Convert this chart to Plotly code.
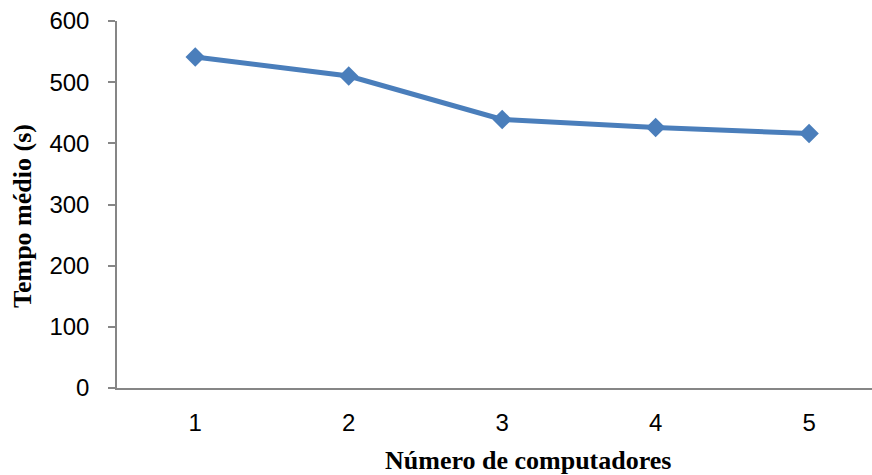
import plotly.graph_objects as go

# Número de computadores vs tempo médio (s)
computadores = [1, 2, 3, 4, 5]
tempo_medio = [541, 510, 439, 426, 416]
y_ticks = [0, 100, 200, 300, 400, 500, 600]

axis_gray = "#868686"
line_blue = "#4A7EBB"

fig = go.Figure()
fig.add_trace(go.Scatter(
    x=computadores,
    y=tempo_medio,
    mode="lines+markers",
    line=dict(color=line_blue, width=5),
    marker=dict(symbol="diamond", size=15, color=line_blue),
    cliponaxis=False,
    showlegend=False,
))

fig.update_layout(
    width=872,
    height=475,
    margin=dict(l=117, r=0, t=21, b=87),
    paper_bgcolor="white",
    plot_bgcolor="white",
    font=dict(family="Liberation Sans, Arial, sans-serif", size=24, color="black"),
    xaxis=dict(
        range=[0.49, 5.41],
        tickmode="array",
        tickvals=computadores,
        ticktext=[str(c) for c in computadores],
        showline=True,
        linecolor=axis_gray,
        linewidth=1.5,
        ticks="",
        showgrid=False,
        zeroline=False,
        ticklabelstandoff=12,
    ),
    yaxis=dict(
        range=[0, 600],
        tickmode="array",
        tickvals=y_ticks,
        showline=True,
        linecolor=axis_gray,
        linewidth=1.5,
        ticks="outside",
        ticklen=7,
        tickcolor=axis_gray,
        tickwidth=1.5,
        showgrid=False,
        zeroline=False,
        ticklabelstandoff=14,
    ),
    annotations=[
        dict(
            text="<b>Número de computadores</b>",
            xref="paper", yref="paper",
            x=(527.5 - 117) / 755, y=-(460 - 388) / 367,
            xanchor="center", yanchor="middle",
            showarrow=False,
            font=dict(family="Liberation Serif, Times New Roman, serif", size=26, color="black"),
        ),
        dict(
            text="<b>Tempo médio (s)</b>",
            xref="paper", yref="paper",
            x=-(117 - 22) / 755, y=(388 - 216) / 367,
            xanchor="center", yanchor="middle",
            textangle=-90,
            showarrow=False,
            font=dict(family="Liberation Serif, Times New Roman, serif", size=26, color="black"),
        ),
    ],
)

fig.write_html("out.html")
